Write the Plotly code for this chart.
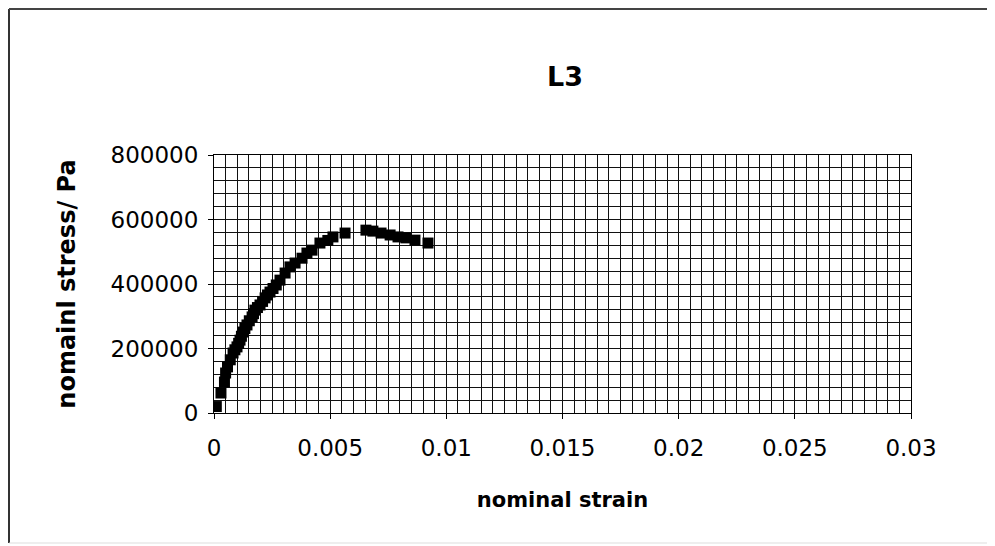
import plotly.graph_objects as go

# ---- data ----
strain = [0.00010, 0.00030, 0.00045, 0.00050, 0.00058, 0.00070, 0.00082, 0.00090,
          0.00099, 0.00106, 0.00112, 0.00118, 0.00125, 0.00133, 0.00142, 0.00152,
          0.00164, 0.00170, 0.00176, 0.00187, 0.00198, 0.00209, 0.00220, 0.00230,
          0.00241, 0.00254, 0.00268, 0.00284, 0.00306, 0.00327, 0.00349, 0.00379,
          0.00400, 0.00422, 0.00456, 0.00490, 0.00512, 0.00564, 0.00654, 0.00684,
          0.00719, 0.00758, 0.00792, 0.00826, 0.00865, 0.00921]
stress = [20000, 62000, 96000, 124000, 143000, 165000, 186000, 196000,
          205000, 216000, 226000, 238000, 251000, 262000, 273000, 286000,
          298000, 308000, 319000, 327000, 335000, 346000, 357000, 366000,
          375000, 386000, 397000, 412000, 434000, 453000, 465000, 480000,
          496000, 505000, 527000, 535000, 546000, 558000, 567000, 564000,
          558000, 552000, 546000, 543000, 536000, 527000]

x_tickvals = [0, 0.005, 0.01, 0.015, 0.02, 0.025, 0.03]
x_ticktext = ["0", "0.005", "0.01", "0.015", "0.02", "0.025", "0.03"]
y_tickvals = [0, 200000, 400000, 600000, 800000]
y_ticktext = ["0", "200000", "400000", "600000", "800000"]

title_text = "L3"
x_title = "nominal strain"
y_title = "nomainl stress/ Pa"

FONT = "DejaVu Sans, Arial, sans-serif"
GRID = "#111111"

# the page body has an 8px margin; the figure is sized/positioned to compensate
OFF = 8
W, H = 995 - OFF, 546 - OFF

fig = go.Figure()
fig.add_trace(go.Scatter(
    x=strain, y=stress, mode="markers",
    marker=dict(symbol="square", size=11, color="black", line=dict(width=0)),
    showlegend=False,
))

fig.update_layout(
    width=W, height=H,
    margin=dict(l=214 - OFF, r=84, t=155 - OFF, b=133),
    paper_bgcolor="white", plot_bgcolor="white",
    font=dict(family=FONT, color="black"),
    title=dict(text=title_text, x=(565 - OFF) / W, xanchor="center",
               y=1 - (77 - OFF) / H, yanchor="middle", yref="container",
               font=dict(family=FONT, size=27, color="black", weight="bold")),
)

fig.update_xaxes(
    range=[0, 0.03], tickvals=x_tickvals, ticktext=x_ticktext,
    showgrid=True, gridcolor=GRID, gridwidth=1,
    minor=dict(dtick=0.0005, showgrid=True, gridcolor=GRID, gridwidth=1),
    showline=True, linecolor="black", linewidth=1, mirror=True,
    ticks="outside", ticklen=5, tickcolor="black",
    ticklabelstandoff=9,
    tickfont=dict(family=FONT, size=23, color="black"),
    zeroline=False,
    title=dict(text=x_title, standoff=32,
               font=dict(family=FONT, size=21, color="black", weight="bold")),
)
fig.update_yaxes(
    range=[0, 800000], tickvals=y_tickvals, ticktext=y_ticktext,
    showgrid=True, gridcolor=GRID, gridwidth=1,
    minor=dict(dtick=40000, showgrid=True, gridcolor=GRID, gridwidth=1),
    showline=True, linecolor="black", linewidth=1, mirror=True,
    ticks="outside", ticklen=5, tickcolor="black",
    ticklabelstandoff=5,
    tickfont=dict(family=FONT, size=23, color="black"),
    zeroline=False,
    title=dict(text=y_title, standoff=28,
               font=dict(family=FONT, size=24, color="black", weight="bold")),
)

# outer frame of the original figure (left and top edges, faint bottom)
pw, ph = 697.0, 258.0
xl = (9 - 214) / pw
xr = (987 - 214) / pw
yt = (413 - 9) / ph
yb = (413 - 543) / ph
fig.add_shape(type="line", xref="paper", yref="paper", x0=xl, x1=xl, y0=yb, y1=yt,
              line=dict(color="#333", width=2))
fig.add_shape(type="line", xref="paper", yref="paper", x0=xl, x1=xr, y0=yt, y1=yt,
              line=dict(color="#444", width=2))
fig.add_shape(type="line", xref="paper", yref="paper", x0=xl, x1=xr, y0=yb, y1=yb,
              line=dict(color="#ddd", width=1))

fig.write_html("out.html")
